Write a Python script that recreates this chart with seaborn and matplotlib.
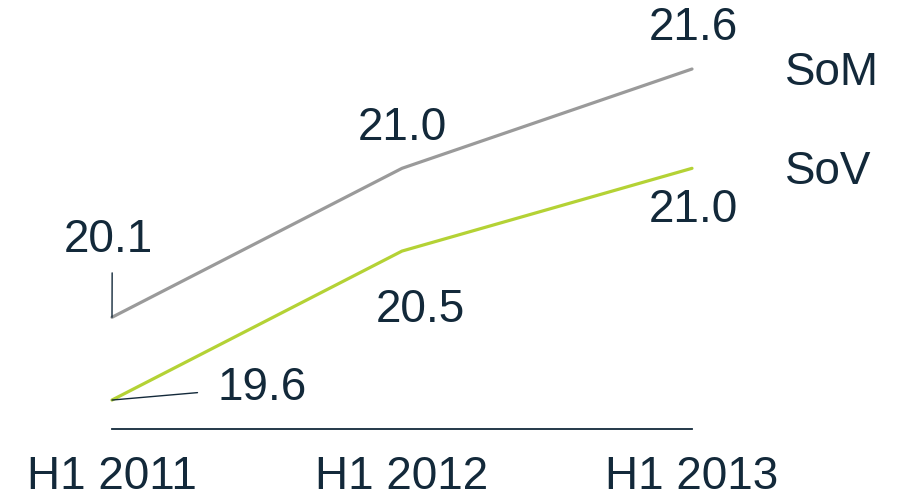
import matplotlib
matplotlib.use("Agg")
import matplotlib.pyplot as plt
import seaborn as sns
import pandas as pd

periods = ["H1 2011", "H1 2012", "H1 2013"]
som = [20.1, 21.0, 21.6]
sov = [19.6, 20.5, 21.0]
series_names = ["SoM", "SoV"]

sns.set_theme(style="white")
plt.rcParams["font.family"] = ["Liberation Sans", "DejaVu Sans"]

TEXT = "#13293A"
GRAY = "#9A9A9A"
GREEN = "#B4D235"

df = pd.DataFrame({
    "x": list(range(len(periods))) * 2,
    "value": som + sov,
    "series": [series_names[0]] * len(som) + [series_names[1]] * len(sov),
})

fig = plt.figure(figsize=(9.01, 5.02), dpi=100)
ax = fig.add_axes([0, 72 / 502, 1, 430 / 502])

sns.lineplot(data=df, x="x", y="value", hue="series",
             palette={"SoM": GRAY, "SoV": GREEN}, linewidth=2.3,
             legend=False, ax=ax)

ax.set_xlim(-112 / 290, (901 - 112) / 290)
ax.set_ylim(19.425, 22.023)
ax.set_xlabel("")
ax.set_ylabel("")
ax.set_yticks([])
ax.set_xticks(range(len(periods)))
ax.set_xticklabels(periods, fontsize=33, color=TEXT)
ax.tick_params(axis="x", length=0, pad=18)
for s in ["top", "left", "right"]:
    ax.spines[s].set_visible(False)
ax.spines["bottom"].set_bounds(0, len(periods) - 1)
ax.spines["bottom"].set_color(TEXT)
ax.spines["bottom"].set_linewidth(1.3)

fs = 33
kw = dict(textcoords="offset pixels", ha="center", va="center",
          fontsize=fs, color=TEXT)

# SoM labels
ax.annotate(f"{som[0]:.1f}", (0, som[0]), xytext=(-4, 78),
            arrowprops=dict(arrowstyle="-", color=TEXT, lw=1.0,
                            relpos=(0.547, 0), shrinkA=6, shrinkB=0), **kw)
ax.annotate(f"{som[1]:.1f}", (1, som[1]), xytext=(0, 41), **kw)
ax.annotate(f"{som[2]:.1f}", (2, som[2]), xytext=(1, 42), **kw)

# SoV labels
ax.annotate(f"{sov[0]:.1f}", (0, sov[0]), xytext=(150, 13),
            arrowprops=dict(arrowstyle="-", color=TEXT, lw=1.0,
                            shrinkA=12, shrinkB=0), **kw)
ax.annotate(f"{sov[1]:.1f}", (1, sov[1]), xytext=(18, -58), **kw)
ax.annotate(f"{sov[2]:.1f}", (2, sov[2]), xytext=(1, -41), **kw)

# Series names
ax.annotate(series_names[0], (2, som[2]), xytext=(93, -3),
            textcoords="offset pixels", ha="left", va="center",
            fontsize=fs, color=TEXT)
ax.annotate(series_names[1], (2, sov[2]), xytext=(93, -3),
            textcoords="offset pixels", ha="left", va="center",
            fontsize=fs, color=TEXT)

fig.savefig("out.png", dpi=100)
